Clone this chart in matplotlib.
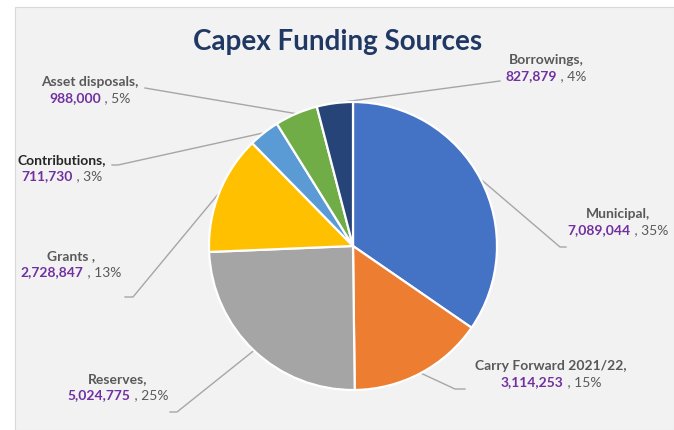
#!/usr/bin/env python3
"""
Capex funding sources pie chart
"""
import math

import matplotlib
matplotlib.use("Agg")
import matplotlib.pyplot as plt
from matplotlib.patches import Rectangle
from matplotlib.offsetbox import TextArea, HPacker, VPacker, AnnotationBbox

# data
sources = ["Municipal", "Carry Forward 2021/22", "Reserves", "Grants",
           "Contributions", "Asset disposals", "Borrowings"]
amounts = [7089044, 3114253, 5024775, 2728847, 711730, 988000, 827879]
colors = ["#4472C4", "#ED7D31", "#A5A5A5", "#FFC000",
          "#5B9BD5", "#70AD47", "#264478"]

# label layout (pixel coords, y up): label centre, elbow, line end
label_pos = [(618, 208), (551, 56), (118, 43), (71, 166),
             (62, 262), (90, 340), (546, 362)]
elbows = [(560, 183), (455, 41), (177, 18), (133, 133),
          (118, 265), (145, 342), (500, 349)]
tails = [(566, 183), (465, 41), (170, 18), (125, 133),
         (112, 265), (145, 342), (500, 349)]
name_sep = [",", ",", ",", " ,", ",", ",", ","]
name_colors = ["#595959"] * 4 + ["#262626"] + ["#595959"] * 2

plt.rcParams['font.family'] = ['Lato', 'DejaVu Sans']

W, H = 674, 430
fig = plt.figure(figsize=(W / 100, H / 100), dpi=100, facecolor="white")
ax = fig.add_axes([0, 0, 1, 1])

# grey chart panel
ax.add_patch(Rectangle((15, 0), W - 15, H - 7, facecolor="#F2F2F2",
                       edgecolor="#D9D9D9", linewidth=0.8, zorder=0))

wedges, _ = ax.pie(amounts, colors=colors, center=(353, 184), radius=144,
                   startangle=90, counterclock=False,
                   wedgeprops=dict(edgecolor="white", linewidth=1.6))
for w in wedges:
    w.set_zorder(2)

total = sum(amounts)
for i, w in enumerate(wedges):
    mid = math.radians((w.theta1 + w.theta2) / 2)
    sx = 353 + 144 * math.cos(mid)
    sy = 184 + 144 * math.sin(mid)
    ex, ey = elbows[i]
    tx, ty = tails[i]
    ax.plot([sx, ex, tx], [sy, ey, ty], color="#A6A6A6", lw=1.0, zorder=1)

    pct = round(amounts[i] / total * 100)
    name_box = TextArea(sources[i] + name_sep[i],
                        textprops=dict(color=name_colors[i], fontsize=10,
                                       fontweight="bold"))
    val_box = TextArea(f"{amounts[i]:,}",
                       textprops=dict(color="#7030A0", fontsize=10,
                                      fontweight="bold"))
    pct_box = TextArea(f" , {pct}%",
                       textprops=dict(color="#595959", fontsize=10))
    line2 = HPacker(children=[val_box, pct_box], align="baseline", pad=0, sep=0)
    box = VPacker(children=[name_box, line2], align="center", pad=0, sep=3)
    ab = AnnotationBbox(box, label_pos[i], xycoords="data", frameon=False,
                        box_alignment=(0.5, 0.5), pad=0)
    ax.add_artist(ab)

ax.text(338, 388, "Capex Funding Sources", ha="center", va="center",
        fontsize=20, fontweight="bold", color="#203864")

ax.set_xlim(0, W)
ax.set_ylim(0, H)
ax.set_aspect("auto")
ax.axis("off")

fig.savefig("out.png", dpi=100, facecolor="white")
